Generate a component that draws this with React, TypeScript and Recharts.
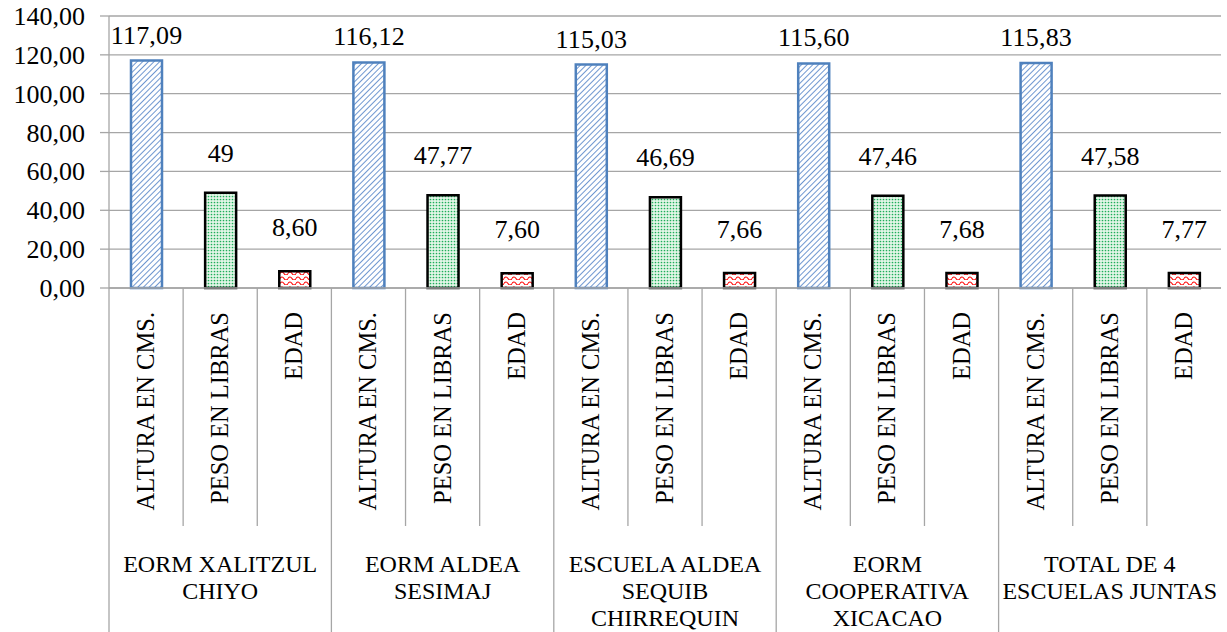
import React from 'react'
import { BarChart, Bar, XAxis, YAxis, CartesianGrid, Cell, LabelList } from 'recharts'

const schools = [
  ['EORM XALITZUL', 'CHIYO'],
  ['EORM ALDEA', 'SESIMAJ'],
  ['ESCUELA ALDEA', 'SEQUIB', 'CHIRREQUIN'],
  ['EORM', 'COOPERATIVA', 'XICACAO'],
  ['TOTAL DE 4', 'ESCUELAS JUNTAS'],
]
const measures = ['ALTURA EN CMS.', 'PESO EN LIBRAS', 'EDAD']
const altura = [117.09, 116.12, 115.03, 115.6, 115.83]
const peso = [49, 47.77, 46.69, 47.46, 47.58]
const edad = [8.6, 7.6, 7.66, 7.68, 7.77]
const yTicks = [0, 20, 40, 60, 80, 100, 120, 140]

const W = 1227
const H = 632
const FONT = 'Liberation Serif'
const GRID = '#a6a6a6'

const rows = schools.flatMap((s, i) =>
  [altura[i], peso[i], edad[i]].map((v, m) => ({ id: `${i}-${m}`, school: i, measure: m, value: v }))
)

const fills = ['url(#hatchBlue)', 'url(#dotsGreen)', 'url(#waveRed)']
const strokes = ['#4f81bd', '#000000', '#000000']
const labelGap = [17, 31, 35]

const fmt = (v: number) => (Number.isInteger(v) ? String(v) : v.toFixed(2).replace('.', ','))
// approximate Times width at 26px: digits 13px, comma 6.5px
const numWidth = (s: string) => s.replace(',', '').length * 13 + (s.includes(',') ? 6.5 : 0)

const slot = (W - 109 - 6) / rows.length

function CatTick(props: any) {
  const { x, payload } = props
  const row = rows[payload.index]
  if (!row) return null
  const top = 288
  const left = x - slot / 2
  const long = row.measure === 0
  return (
    <g>
      <line x1={left} x2={left} y1={top} y2={long ? H : 526} stroke={GRID} strokeWidth={1.3} />
      <text
        x={x + 8}
        y={312}
        transform={`rotate(-90, ${x + 8}, 312)`}
        textAnchor="end"
        fontFamily={FONT}
        fontSize={24.5}
        fill="#000"
      >
        {measures[row.measure]}
      </text>
      {row.measure === 1 &&
        schools[row.school].map((line, k) => (
          <text key={k} x={x} y={572 + k * 27} textAnchor="middle" fontFamily={FONT} fontSize={24} fill="#000">
            {line}
          </text>
        ))}
    </g>
  )
}

function ValTick(props: any) {
  const { x, y, payload } = props
  const s = payload.value.toFixed(2).replace('.', ',')
  return (
    <text
      x={x}
      y={y}
      dy={9}
      textAnchor="end"
      fontFamily={FONT}
      fontSize={26}
      textLength={numWidth(s)}
      lengthAdjust="spacing"
      fill="#000"
    >
      {s}
    </text>
  )
}

function ValueLabel(props: any) {
  const { x, y, width, value, index } = props
  const s = fmt(value)
  return (
    <text
      x={x + width / 2}
      y={y - labelGap[index % 3]}
      textAnchor="middle"
      fontFamily={FONT}
      fontSize={26}
      textLength={numWidth(s)}
      lengthAdjust="spacing"
      fill="#000"
    >
      {s}
    </text>
  )
}

export default function App() {
  return (
    <div style={{ width: W, height: H }}>
      <style>{`body{margin:0}`}</style>
      <BarChart width={W} height={H} data={rows} margin={{ top: 16, right: 6, left: 0, bottom: 0 }}>
        <defs>
          <pattern id="hatchBlue" width="4" height="4" patternUnits="userSpaceOnUse" patternTransform="rotate(45)">
            <rect width="4" height="4" fill="#ffffff" />
            <line x1="0" y1="0" x2="0" y2="4" stroke="#6f97d0" strokeWidth="2" />
          </pattern>
          <pattern id="dotsGreen" width="3" height="3" patternUnits="userSpaceOnUse">
            <rect width="3" height="3" fill="#e3f6e8" />
            <circle cx="1.5" cy="1.5" r="0.85" fill="#1fae5a" />
          </pattern>
          <pattern id="waveRed" width="8" height="5" patternUnits="userSpaceOnUse">
            <rect width="8" height="5" fill="#ffffff" />
            <path d="M0 3.5 Q2 0.5 4 3.5 T8 3.5" stroke="#ff0000" strokeWidth="1.1" fill="none" />
          </pattern>
        </defs>
        <CartesianGrid vertical={false} stroke={GRID} strokeWidth={1.3} />
        <XAxis
          dataKey="id"
          height={344}
          interval={0}
          tickLine={false}
          axisLine={{ stroke: GRID, strokeWidth: 1.3 }}
          tick={<CatTick />}
        />
        <YAxis
          width={109}
          domain={[0, 140]}
          ticks={yTicks}
          tickSize={9}
          tickMargin={15}
          tickLine={{ stroke: GRID, strokeWidth: 1.3 }}
          axisLine={{ stroke: GRID, strokeWidth: 1.3 }}
          tick={<ValTick />}
        />
        <Bar dataKey="value" barSize={31} isAnimationActive={false}>
          {rows.map((r) => (
            <Cell key={r.id} fill={fills[r.measure]} stroke={strokes[r.measure]} strokeWidth={2.5} />
          ))}
          <LabelList dataKey="value" content={<ValueLabel />} />
        </Bar>
      </BarChart>
    </div>
  )
}
